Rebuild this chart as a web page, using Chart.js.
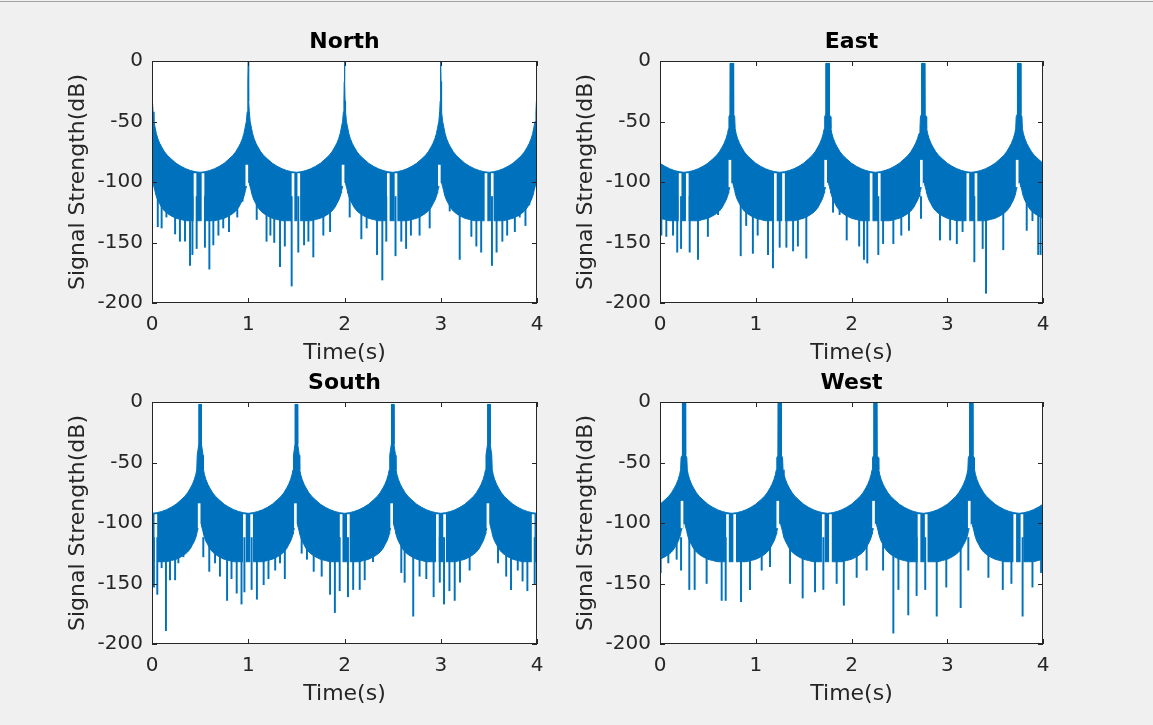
<!DOCTYPE html>
<html><head><meta charset="utf-8">
<script src="https://cdn.jsdelivr.net/npm/chart.js@4.4.1/dist/chart.umd.min.js"></script>
<style>
html,body{margin:0;padding:0;background:#f0f0f0;width:1153px;height:725px;overflow:hidden;position:relative;}
#topline{position:absolute;left:0;top:1px;width:1153px;height:1px;background:#a3a3a3;}
canvas{position:absolute;}
</style></head><body>
<div id="topline"></div>
<canvas id="c0"></canvas><canvas id="c1"></canvas><canvas id="c2"></canvas><canvas id="c3"></canvas>
<script>
// ---------- data ----------
const timeTicks = [0, 1, 2, 3, 4];
const dbTicks = [0, -50, -100, -150, -200];
const panelTitles = ['North', 'East', 'South', 'West'];
const xLabel = 'Time(s)';
const yLabel = 'Signal Strength(dB)';

// main lobe times (s); entries outside 0..4 are the neighbouring lobes cut by the axes
const northPeaks = [0, 1, 2, 3, 4];
const eastPeaks = [-0.25, 0.75, 1.75, 2.75, 3.75, 4.75];
const southPeaks = [-0.5, 0.5, 1.5, 2.5, 3.5, 4.5];
const westPeaks = [-0.75, 0.25, 1.25, 2.25, 3.25, 4.25];

// upper edge right at each main lobe: [distance from lobe (s), dB]
const northCore = [[0, 0], [0.003, -17], [0.006, -33], [0.011, -42], [0.02, -50]];
const eastCore = [[0, -2], [0.017, -2], [0.019, -44], [0.03, -46]];
const southCore = [[0, -2], [0.012, -2], [0.014, -35], [0.03, -44]];
const westCore = [[0, -1], [0.016, -1], [0.018, -44], [0.03, -46]];

// side-lobe envelope (same for every lobe): distance from lobe (s), upper dB, lower dB of the dense band
const sideOffsets = [0.035, 0.045, 0.06, 0.08, 0.1, 0.13, 0.16, 0.2, 0.25, 0.3, 0.35, 0.4, 0.45, 0.5];
const sideUpper = [-56, -60, -64, -68, -71, -75, -78, -81, -84.5, -87, -89, -90.5, -91.5, -92];
const sideLower = [-109, -112, -115, -118, -121, -124, -126, -128, -130, -131, -132, -132, -132, -132];
const lowerCore = [[0, -100], [0.01, -101], [0.02, -104], [0.03, -107]];

// deep single-sample dips: [time (s), dB]
const northDips = [[0.06,-137],[0.10,-138],[0.15,-129],[0.24,-143],[0.29,-149],[0.343,-149],[0.395,-169],[0.42,-160],[0.464,-155],[0.55,-154],[0.596,-172],[0.637,-152],[0.69,-144],[0.74,-138],[0.80,-141],[0.886,-129],[0.94,-116],[1.088,-131],[1.19,-149],[1.23,-144],[1.27,-150],[1.33,-170],[1.38,-153],[1.451,-186],[1.52,-158],[1.58,-152],[1.625,-149],[1.676,-162],[1.78,-144],[1.85,-141],[1.90,-119],[2.054,-129],[2.175,-147],[2.23,-138],[2.338,-160],[2.393,-181],[2.434,-149],[2.53,-161],[2.59,-149],[2.64,-155],[2.69,-144],[2.78,-144],[2.885,-138],[3.093,-124],[3.197,-164],[3.318,-145],[3.37,-153],[3.42,-158],[3.532,-169],[3.58,-158],[3.64,-149],[3.69,-144],[3.77,-141],[3.82,-129],[3.88,-136],[3.92,-119]];
const eastDips = [[0.014,-144],[0.066,-145],[0.136,-144],[0.18,-158],[0.22,-155],[0.31,-158],[0.397,-164],[0.5,-145],[0.606,-127],[0.843,-161],[0.9,-136],[0.97,-159],[1.02,-144],[1.128,-160],[1.18,-171],[1.25,-154],[1.32,-154],[1.39,-157],[1.44,-153],[1.528,-163],[1.58,-125],[1.807,-125],[1.876,-127],[1.95,-148],[2.08,-153],[2.13,-164],[2.165,-167],[2.28,-160],[2.33,-151],[2.437,-151],[2.52,-144],[2.6,-140],[2.726,-130],[2.924,-148],[3.03,-148],[3.1,-151],[3.16,-141],[3.283,-166],[3.37,-155],[3.405,-192],[3.585,-156],[3.83,-140],[3.89,-132],[3.95,-160],[3.975,-160]];
const southDips = [[0.02,-153],[0.055,-159],[0.10,-137],[0.145,-189],[0.187,-147],[0.24,-147],[0.274,-133],[0.326,-128],[0.37,-122],[0.533,-128],[0.595,-140],[0.655,-133],[0.706,-144],[0.78,-164],[0.826,-146],[0.88,-158],[0.93,-167],[0.96,-157],[1.035,-155],[1.09,-163],[1.16,-151],[1.21,-146],[1.28,-139],[1.33,-133],[1.38,-146],[1.555,-125],[1.61,-130],[1.68,-140],[1.763,-144],[1.85,-159],[1.90,-174],[1.95,-156],[2.036,-161],[2.09,-155],[2.158,-155],[2.21,-147],[2.296,-132],[2.40,-114],[2.59,-141],[2.625,-149],[2.714,-177],[2.78,-144],[2.85,-146],[2.926,-161],[2.99,-149],[3.034,-167],[3.09,-156],[3.145,-164],[3.20,-149],[3.30,-139],[3.40,-119],[3.595,-133],[3.68,-144],[3.73,-155],[3.80,-139],[3.85,-148],[3.90,-156],[3.976,-151]];
const westDips = [[0.007,-141],[0.087,-133],[0.174,-130],[0.22,-139],[0.306,-155],[0.362,-155],[0.487,-150],[0.644,-164],[0.686,-164],[0.846,-165],[0.94,-155],[1.062,-139],[1.149,-136],[1.358,-150],[1.49,-162],[1.619,-157],[1.706,-155],[1.845,-150],[1.92,-168],[2.054,-145],[2.158,-139],[2.33,-139],[2.437,-191],[2.49,-155],[2.593,-176],[2.68,-160],[2.77,-155],[2.89,-177],[2.99,-153],[3.14,-170],[3.22,-139],[3.43,-145],[3.58,-155],[3.67,-150],[3.787,-177],[3.89,-153],[3.98,-141]];

// white gaps inside the band (notches): [time (s), top dB, bottom dB]
const northGaps = [[0.447,-93,-150],[0.53,-93,-150],[1.465,-93,-152],[1.525,-93,-150],[2.455,-93,-150],[2.535,-93,-155],[3.47,-93,-150],[3.535,-93,-150],[0.985,-86,-103],[1.985,-86,-103],[2.985,-86,-103]];
const eastGaps = [[0.21,-93,-155],[0.285,-93,-155],[1.205,-93,-155],[1.29,-93,-155],[2.205,-93,-155],[2.29,-93,-155],[3.215,-93,-155],[3.30,-93,-155],[0.73,-82,-104],[1.73,-82,-104],[2.73,-82,-104],[3.73,-82,-104]];
const southGaps = [[0.04,-93,-150],[0.96,-93,-150],[1.035,-93,-155],[1.965,-93,-150],[2.04,-93,-158],[2.965,-93,-150],[3.04,-93,-160],[3.96,-93,-150],[0.49,-84,-104],[1.49,-84,-104],[2.49,-84,-104],[3.49,-84,-104]];
const westGaps = [[0.705,-93,-155],[0.78,-93,-155],[1.705,-93,-155],[1.78,-93,-155],[2.705,-93,-155],[2.78,-93,-155],[3.705,-93,-155],[3.78,-93,-155],[0.23,-82,-104],[1.23,-82,-104],[2.23,-82,-104],[3.23,-82,-104]];

// ---------- layout / style ----------
const BLUE = '#0072BD';
const AXIS = '#262626';
const FONT = "'DejaVu Sans', sans-serif";
const DIP_TOP = -112;
const boxes = [ // page pixel position of each plot area
  {l:152, t:61, r:537, b:303},
  {l:660, t:61, r:1043, b:303},
  {l:152, t:402, r:537, b:644},
  {l:660, t:402, r:1043, b:644}
];
const PAD_L = 112, PAD_T = 43, PAD_R = 23, PAD_B = 72;
const COLUMN_PX = [0, 3.4, 2.6, 3.2]; // drawn width of the flat-topped main lobe per panel

function bandEdge(peaks, core, offs, vals) {
  const o = core.map(p => p[0]).concat(offs);
  const v = core.map(p => p[1]).concat(vals);
  const pts = [];
  peaks.forEach(p => {
    for (let i = o.length - 1; i >= 0; i--) pts.push({x: p - o[i], y: v[i]});
    for (let i = 1; i < o.length; i++) pts.push({x: p + o[i], y: v[i]});
  });
  return pts;
}

const axesPlugin = {
  id: 'axesBox',
  beforeDraw(chart) {
    const {ctx, chartArea: a} = chart;
    ctx.save();
    ctx.fillStyle = '#ffffff';
    ctx.fillRect(a.left, a.top, a.right - a.left, a.bottom - a.top);
    ctx.restore();
  },
  afterDraw(chart) {
    const {ctx, chartArea: a, scales: {x, y}} = chart;
    ctx.save();
    ctx.strokeStyle = AXIS;
    ctx.lineWidth = 1;
    ctx.strokeRect(a.left + 0.5, a.top + 0.5, a.right - a.left - 1, a.bottom - a.top - 1);
    const L = 5;
    ctx.beginPath();
    x.ticks.forEach(t => {
      const px = Math.round(x.getPixelForValue(t.value)) + 0.5;
      ctx.moveTo(px, a.bottom); ctx.lineTo(px, a.bottom - L);
      ctx.moveTo(px, a.top); ctx.lineTo(px, a.top + L);
    });
    y.ticks.forEach(t => {
      const py = Math.round(y.getPixelForValue(t.value)) + 0.5;
      ctx.moveTo(a.left, py); ctx.lineTo(a.left + L, py);
      ctx.moveTo(a.right, py); ctx.lineTo(a.right - L, py);
    });
    ctx.stroke();
    ctx.restore();
  }
};

const panels = [
  {peaks: northPeaks, core: northCore, dips: northDips, gaps: northGaps},
  {peaks: eastPeaks, core: eastCore, dips: eastDips, gaps: eastGaps},
  {peaks: southPeaks, core: southCore, dips: southDips, gaps: southGaps},
  {peaks: westPeaks, core: westCore, dips: westDips, gaps: westGaps}
];

panels.forEach((p, i) => {
  const bx = boxes[i];
  const cv = document.getElementById('c' + i);
  const w = bx.r - bx.l + PAD_L + PAD_R;
  const h = bx.b - bx.t + PAD_T + PAD_B;
  cv.width = w; cv.height = h;
  cv.style.left = (bx.l - PAD_L) + 'px';
  cv.style.top = (bx.t - PAD_T) + 'px';
  cv.style.width = w + 'px'; cv.style.height = h + 'px';

  const datasets = [
    // band: blue below the upper edge, then white below the lower edge
    {label: 'upper', data: bandEdge(p.peaks, p.core, sideOffsets, sideUpper), borderColor: BLUE, backgroundColor: BLUE, borderWidth: 1, pointRadius: 0, fill: 'start', order: 5},
    {label: 'lower', data: bandEdge(p.peaks, lowerCore, sideOffsets, sideLower), borderColor: BLUE, backgroundColor: '#ffffff', borderWidth: 1, pointRadius: 0, fill: 'start', order: 4},
    {type: 'bar', label: 'gaps', data: p.gaps.map(g => ({x: g[0], y: [g[1], g[2]]})), backgroundColor: '#ffffff', borderWidth: 0, barThickness: 2, grouped: false, order: 2},
    {type: 'bar', label: 'dips', data: p.dips.map(d => ({x: d[0], y: [DIP_TOP, d[1]]})), backgroundColor: BLUE, borderWidth: 0, barThickness: 1.3, grouped: false, order: 1}
  ];
  if (COLUMN_PX[i] > 0) {
    datasets.push({type: 'bar', label: 'lobes', data: p.peaks.map(pk => ({x: pk, y: [p.core[0][1], p.core[2][1]]})), backgroundColor: BLUE, borderWidth: 0, barThickness: COLUMN_PX[i], grouped: false, order: 0});
  }

  new Chart(cv, {
    type: 'line',
    data: {datasets},
    options: {
      responsive: false, animation: false, devicePixelRatio: 1,
      layout: {padding: {left: 20, right: PAD_R, top: 0, bottom: 0}},
      plugins: {
        legend: {display: false}, tooltip: {enabled: false},
        title: {display: true, fullSize: false, text: panelTitles[i], color: '#000', font: {family: FONT, size: 22, weight: 'bold'}, padding: {top: 11.3, bottom: 5.3}}
      },
      scales: {
        x: {
          type: 'linear', min: 0, max: 4, offset: false,
          afterBuildTicks: s => { s.ticks = timeTicks.map(v => ({value: v})); },
          afterFit: s => { s.height = PAD_B; },
          grid: {display: false, drawTicks: false}, border: {display: false},
          ticks: {color: AXIS, padding: 10, font: {family: FONT, size: 20}, maxRotation: 0, callback: v => String(v)},
          title: {display: true, text: xLabel, color: AXIS, font: {family: FONT, size: 22}, padding: {top: 0, bottom: 8.5}}
        },
        y: {
          type: 'linear', min: -200, max: 0,
          afterBuildTicks: s => { s.ticks = dbTicks.map(v => ({value: v})); },
          afterFit: s => { s.width = PAD_L - 20; },
          grid: {display: false, drawTicks: false}, border: {display: false},
          ticks: {color: AXIS, padding: 9, font: {family: FONT, size: 20}, callback: v => String(v)},
          title: {display: true, text: yLabel, color: AXIS, font: {family: FONT, size: 22}, padding: {top: 5.1, bottom: 0}}
        }
      }
    },
    plugins: [axesPlugin]
  });
});
</script>
</body></html>
